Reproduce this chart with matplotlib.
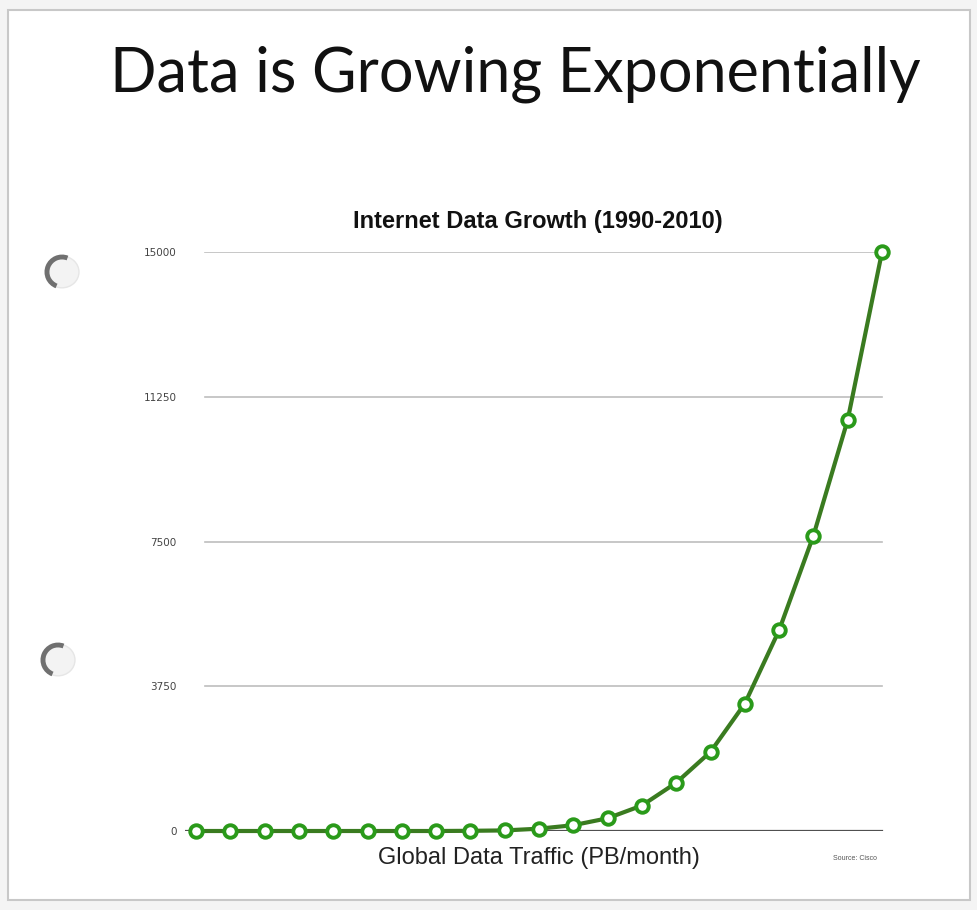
import matplotlib
matplotlib.use("Agg")
import matplotlib.pyplot as plt
from matplotlib.patches import Circle, Arc, Rectangle

# Monthly global traffic (PB/month), 1990-2010
years = list(range(1990, 2011))
traffic = [0, 0, 0, 0, 0, 0, 0, 0, 5, 15, 60, 150, 330, 660, 1250,
           2050, 3300, 5200, 7650, 10650, 15000]
y_ticks = [0, 3750, 7500, 11250, 15000]
y_tick_labels = ["0", "3750", "7500", "11250", "15000"]

W, H = 978, 910
fig = plt.figure(figsize=(W / 100, H / 100), dpi=100)
fig.patch.set_facecolor("#f4f4f4")


def fx(px):
    return px / W


def fy(py):
    return 1 - py / H


# page sheet
page = Rectangle((fx(8), fy(900)), fx(962), 890 / H, transform=fig.transFigure,
                 facecolor="white", edgecolor="#c8c8c8", lw=1.5, zorder=-2)
fig.patches.append(page)

# binder holes
for cx, cy in [(62, 272), (58, 660)]:
    hole = Circle((fx(cx), fy(cy)), fx(17), transform=fig.transFigure,
                  facecolor="#f3f3f3", edgecolor="#e6e6e6", lw=1, zorder=-1.5)
    fig.patches.append(hole)
    arc = Arc((fx(cx), fy(cy)), 2 * fx(15), 2 * 15 / H, theta1=70, theta2=250,
              transform=fig.transFigure, color="#707070", lw=3.5, zorder=-1)
    fig.patches.append(arc)

fig.text(fx(515), fy(74), "Data is Growing Exponentially", ha="center", va="center",
         fontsize=44, family="Lato", color="#111111")

# plot area: 1990 at x=196px, 2010 at x=882px; 0 at y=831px, 15000 at y=252px
step = (882 - 196) / 20
left_px, right_px = 185, 890
ax = fig.add_axes([fx(left_px), fy(831), fx(right_px - left_px), (831 - 252) / H])
ax.set_xlim(1990 - (196 - left_px) / step, 2010 + (right_px - 882) / step)
ax.set_ylim(0, 15000)
ax.patch.set_alpha(0)
for s in ax.spines.values():
    s.set_visible(False)

for t in y_ticks[1:]:
    ax.axhline(t, xmin=(205 - left_px) / (right_px - left_px),
               xmax=(882 - left_px) / (right_px - left_px),
               color="#bdbdbd", lw=1.2, zorder=1)
ax.axhline(0, xmin=0, xmax=(882 - left_px) / (right_px - left_px),
           color="#505050", lw=1.6, zorder=1)

ax.set_yticks(y_ticks)
ax.set_yticklabels(y_tick_labels, fontsize=7.5, color="#444444")
ax.tick_params(axis="y", length=0, pad=6)
ax.set_xticks([])

ax.plot(years, traffic, color="#3a7b20", lw=3, marker="o", markersize=9,
        markerfacecolor="white", markeredgecolor="#2a9a1a", markeredgewidth=2.8,
        clip_on=False, zorder=3)

ax.set_title("Internet Data Growth (1990-2010)", fontsize=17, fontweight="bold",
             family="Liberation Sans", pad=17, color="#111111")
fig.text(fx(539), fy(858), "Global Data Traffic (PB/month)", ha="center", va="center",
         fontsize=17, family="Liberation Sans", color="#222222")
fig.text(fx(855), fy(858), "Source: Cisco", ha="center", va="center",
         fontsize=5, family="Liberation Sans", color="#555555")

fig.savefig("out.png", dpi=100, facecolor=fig.get_facecolor())
